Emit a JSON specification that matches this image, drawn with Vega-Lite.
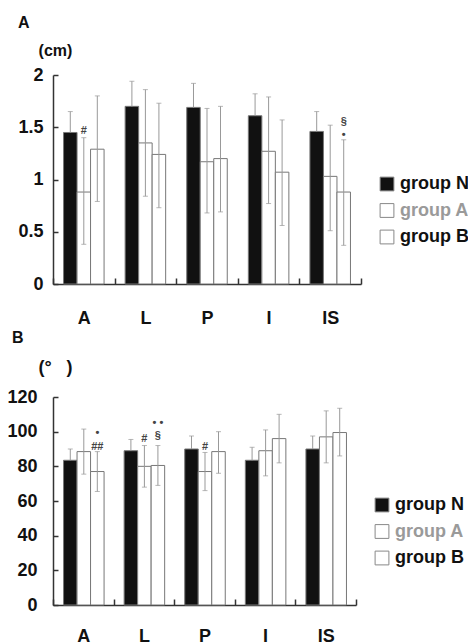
{
  "$schema": "https://vega.github.io/schema/vega-lite/v6.json",
  "padding": {"left": 6, "top": 15, "right": 0, "bottom": 0},
  "background": "white",
  "config": {
    "font": "Liberation Sans",
    "view": {"stroke": null},
    "axis": {"grid": false, "labelOverlap": false, "domainColor": "#333", "domainWidth": 1.5, "tickColor": "#333", "tickWidth": 1.5, "labelColor": "#111", "labelFont": "Liberation Sans", "labelFontSize": 18, "labelFontWeight": "bold", "titleFont": "Liberation Sans", "titleFontWeight": "bold", "titleColor": "#111"},
    "axisY": {"labelOverlap": false},
    "axisQuantitative": {"labelOverlap": false},
    "title": {"font": "Liberation Sans", "fontWeight": "bold", "fontSize": 16, "color": "#111", "anchor": "start", "frame": "bounds"}
  },
  "datasets": {
    "cm": [
      {"cat": "A", "group": "N", "mean": 1.45, "lo": 1.25, "hi": 1.65},
      {"cat": "A", "group": "A", "mean": 0.88, "lo": 0.38, "hi": 1.40},
      {"cat": "A", "group": "B", "mean": 1.29, "lo": 0.79, "hi": 1.80},
      {"cat": "L", "group": "N", "mean": 1.70, "lo": 1.46, "hi": 1.94},
      {"cat": "L", "group": "A", "mean": 1.35, "lo": 0.84, "hi": 1.86},
      {"cat": "L", "group": "B", "mean": 1.24, "lo": 0.73, "hi": 1.73},
      {"cat": "P", "group": "N", "mean": 1.69, "lo": 1.46, "hi": 1.92},
      {"cat": "P", "group": "A", "mean": 1.17, "lo": 0.68, "hi": 1.68},
      {"cat": "P", "group": "B", "mean": 1.20, "lo": 0.69, "hi": 1.70},
      {"cat": "I", "group": "N", "mean": 1.61, "lo": 1.40, "hi": 1.82},
      {"cat": "I", "group": "A", "mean": 1.27, "lo": 0.77, "hi": 1.79},
      {"cat": "I", "group": "B", "mean": 1.07, "lo": 0.56, "hi": 1.57},
      {"cat": "IS", "group": "N", "mean": 1.46, "lo": 1.27, "hi": 1.65},
      {"cat": "IS", "group": "A", "mean": 1.03, "lo": 0.51, "hi": 1.52},
      {"cat": "IS", "group": "B", "mean": 0.88, "lo": 0.37, "hi": 1.38}
    ],
    "deg": [
      {"cat": "A", "group": "N", "mean": 83.5, "lo": 77, "hi": 90},
      {"cat": "A", "group": "A", "mean": 88.5, "lo": 75.5, "hi": 101.5},
      {"cat": "A", "group": "B", "mean": 77, "lo": 65.5, "hi": 88.5},
      {"cat": "L", "group": "N", "mean": 89, "lo": 82.5, "hi": 95.5},
      {"cat": "L", "group": "A", "mean": 80, "lo": 68, "hi": 92},
      {"cat": "L", "group": "B", "mean": 80.5, "lo": 69, "hi": 92},
      {"cat": "P", "group": "N", "mean": 90, "lo": 82.5, "hi": 97.5},
      {"cat": "P", "group": "A", "mean": 77, "lo": 66, "hi": 88},
      {"cat": "P", "group": "B", "mean": 88.5, "lo": 76, "hi": 100},
      {"cat": "I", "group": "N", "mean": 83.5, "lo": 76, "hi": 91},
      {"cat": "I", "group": "A", "mean": 89, "lo": 74.5, "hi": 101},
      {"cat": "I", "group": "B", "mean": 96, "lo": 82, "hi": 110},
      {"cat": "IS", "group": "N", "mean": 90, "lo": 83, "hi": 97.5},
      {"cat": "IS", "group": "A", "mean": 97, "lo": 82, "hi": 112},
      {"cat": "IS", "group": "B", "mean": 99.5, "lo": 86, "hi": 113.5}
    ],
    "annA": [
      {"cat": "A", "group": "A", "val": 1.46, "label": "#"},
      {"cat": "IS", "group": "B", "val": 1.55, "label": "§"},
      {"cat": "IS", "group": "B", "val": 1.43, "label": "•"}
    ],
    "annB": [
      {"cat": "A", "group": "B", "val": 91, "label": "##"},
      {"cat": "A", "group": "B", "val": 99, "label": "•"},
      {"cat": "L", "group": "A", "val": 96, "label": "#"},
      {"cat": "L", "group": "B", "val": 97.5, "label": "§"},
      {"cat": "L", "group": "B", "val": 105, "label": "• •"},
      {"cat": "P", "group": "A", "val": 91, "label": "#"}
    ]
  },
  "resolve": {"scale": {"fill": "independent"}, "legend": {"fill": "independent"}},
  "spacing": 3,
  "vconcat": [
    {
      "width": 308, "height": 209,
      "title": {"text": "A", "dx": 0, "offset": 11},
      "data": {"name": "cm"},
      "encoding": {
        "x": {"field": "cat", "type": "nominal", "sort": ["A", "L", "P", "I", "IS"], "scale": {"paddingInner": 0, "paddingOuter": 0},
              "axis": {"title": null, "labelAngle": 0, "tickBand": "extent", "tickSize": -6, "labelPadding": 31}},
        "xOffset": {"field": "group", "type": "nominal", "sort": ["N", "A", "B"], "scale": {"paddingInner": 0, "paddingOuter": 0.78}}
      },
      "layer": [
        {
          "mark": {"type": "bar", "stroke": "#777", "strokeWidth": 1},
          "encoding": {
            "y": {"field": "mean", "type": "quantitative", "scale": {"domain": [0, 2]},
                  "axis": {"values": [0, 0.5, 1, 1.5, 2], "format": "~g", "tickSize": -5, "labelPadding": 15, "labelOverlap": false,
                           "title": "(cm)", "titleAngle": 0, "titleX": 2, "titleY": -25, "titleAlign": "center", "titleBaseline": "middle", "titleFontSize": 16}},
            "fill": {"field": "group", "type": "nominal", "sort": ["N", "A", "B"], "scale": {"domain": ["N", "A", "B"], "range": ["#111111", "#ffffff", "#ffffff"]},
                     "legend": {"title": null, "orient": "none", "legendX": 325, "legendY": 100, "symbolType": "square", "symbolSize": 190, "symbolStrokeColor": "#888", "symbolStrokeWidth": 1, "labelFont": "Liberation Sans", "labelFontSize": 18, "labelFontWeight": "bold", "labelOffset": 4, "rowPadding": 8.5, "labelExpr": "'group ' + datum.label",
                                "encode": {"labels": {"update": {"fill": {"signal": "datum.value === 'A' ? '#9a9a9a' : '#111111'"}}}}}}
          }
        },
        {
          "mark": {"type": "rule", "color": "#999", "strokeWidth": 1},
          "encoding": {"y": {"field": "mean", "type": "quantitative"}, "y2": {"field": "hi"}}
        },
        {
          "transform": [{"filter": "datum.group !== 'N'"}],
          "mark": {"type": "rule", "color": "#999", "strokeWidth": 1},
          "encoding": {"y": {"field": "lo", "type": "quantitative"}, "y2": {"field": "mean"}}
        },
        {
          "mark": {"type": "tick", "color": "#999", "size": 5, "thickness": 1},
          "encoding": {"y": {"field": "hi", "type": "quantitative"}}
        },
        {
          "transform": [{"filter": "datum.group !== 'N'"}],
          "mark": {"type": "tick", "color": "#999", "size": 5, "thickness": 1},
          "encoding": {"y": {"field": "lo", "type": "quantitative"}}
        },
        {
          "data": {"name": "annA"},
          "mark": {"type": "text", "color": "#444", "fontSize": 11, "fontWeight": "bold", "baseline": "middle"},
          "encoding": {"y": {"field": "val", "type": "quantitative"}, "text": {"field": "label"}}
        }
      ]
    },
    {
      "width": 303, "height": 208,
      "title": {"text": "B", "dx": 5, "offset": 12},
      "data": {"name": "deg"},
      "encoding": {
        "x": {"field": "cat", "type": "nominal", "sort": ["A", "L", "P", "I", "IS"], "scale": {"paddingInner": 0, "paddingOuter": 0},
              "axis": {"title": null, "labelAngle": 0, "tickBand": "extent", "tickSize": -6, "labelPadding": 28}},
        "xOffset": {"field": "group", "type": "nominal", "sort": ["N", "A", "B"], "scale": {"paddingInner": 0, "paddingOuter": 0.7}}
      },
      "layer": [
        {
          "mark": {"type": "bar", "stroke": "#777", "strokeWidth": 1},
          "encoding": {
            "y": {"field": "mean", "type": "quantitative", "scale": {"domain": [0, 120]},
                  "axis": {"values": [0, 20, 40, 60, 80, 100, 120], "tickCount": 7, "tickSize": -5, "labelPadding": 21, "labelOverlap": false,
                           "title": "(°\u00a0\u00a0\u00a0)", "titleAngle": 0, "titleX": 2, "titleY": -30, "titleAlign": "center", "titleBaseline": "middle", "titleFontSize": 18}},
            "fill": {"field": "group", "type": "nominal", "sort": ["N", "A", "B"], "scale": {"domain": ["N", "A", "B"], "range": ["#111111", "#ffffff", "#ffffff"]},
                     "legend": {"title": null, "orient": "none", "legendX": 320, "legendY": 99, "symbolType": "square", "symbolSize": 190, "symbolStrokeColor": "#888", "symbolStrokeWidth": 1, "labelFont": "Liberation Sans", "labelFontSize": 18, "labelFontWeight": "bold", "labelOffset": 4, "rowPadding": 8.5, "labelExpr": "'group ' + datum.label",
                                "encode": {"labels": {"update": {"fill": {"signal": "datum.value === 'A' ? '#9a9a9a' : '#111111'"}}}}}}
          }
        },
        {
          "mark": {"type": "rule", "color": "#999", "strokeWidth": 1},
          "encoding": {"y": {"field": "mean", "type": "quantitative"}, "y2": {"field": "hi"}}
        },
        {
          "transform": [{"filter": "datum.group !== 'N'"}],
          "mark": {"type": "rule", "color": "#999", "strokeWidth": 1},
          "encoding": {"y": {"field": "lo", "type": "quantitative"}, "y2": {"field": "mean"}}
        },
        {
          "mark": {"type": "tick", "color": "#999", "size": 5, "thickness": 1},
          "encoding": {"y": {"field": "hi", "type": "quantitative"}}
        },
        {
          "transform": [{"filter": "datum.group !== 'N'"}],
          "mark": {"type": "tick", "color": "#999", "size": 5, "thickness": 1},
          "encoding": {"y": {"field": "lo", "type": "quantitative"}}
        },
        {
          "data": {"name": "annB"},
          "mark": {"type": "text", "color": "#444", "fontSize": 11, "fontWeight": "bold", "baseline": "middle"},
          "encoding": {"y": {"field": "val", "type": "quantitative"}, "text": {"field": "label"}}
        }
      ]
    }
  ]
}
